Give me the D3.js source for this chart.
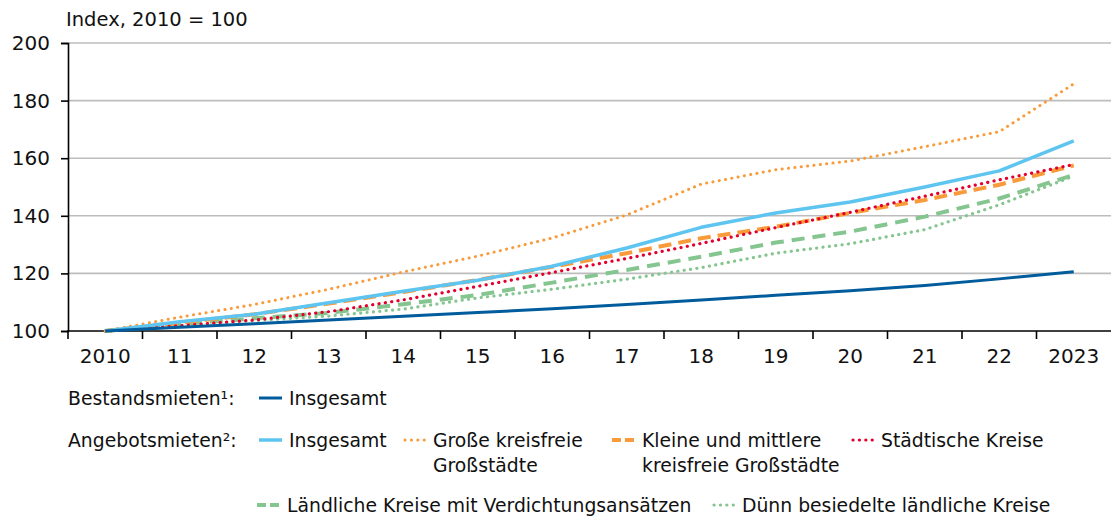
<!DOCTYPE html>
<html>
<head>
<meta charset="utf-8">
<script src="https://cdn.jsdelivr.net/npm/d3@7"></script>
<style>
  body { margin: 0; background: #fff; }
  svg text { font-family: "DejaVu Sans", sans-serif; fill: #111; }
</style>
</head>
<body>
<div id="chart"></div>
<script>
// -------------------- DATA --------------------
const years = [2010, 2011, 2012, 2013, 2014, 2015, 2016, 2017, 2018, 2019, 2020, 2021, 2022, 2023];
const yearLabels = ["2010", "11", "12", "13", "14", "15", "16", "17", "18", "19", "20", "21", "22", "2023"];
const yTicks = [100, 120, 140, 160, 180, 200];

const bestandInsgesamt = [100, 101.3, 102.5, 103.8, 105.1, 106.4, 107.7, 109.2, 110.8, 112.4, 114.0, 115.8, 118.1, 120.6];
const angebotInsgesamt = [100, 103.2, 105.8, 109.8, 113.8, 117.6, 122.5, 128.8, 136.0, 141.0, 144.8, 150.0, 155.6, 166.0];
const grosseStaedte    = [100, 104.8, 109.2, 114.5, 120.5, 126.0, 132.3, 140.3, 151.0, 156.0, 159.0, 164.0, 169.2, 185.8];
const kleineStaedte    = [100, 102.8, 105.8, 109.5, 113.5, 117.7, 122.3, 127.0, 132.2, 136.2, 141.0, 145.5, 150.8, 157.5];
const staedtKreise     = [100, 101.8, 103.8, 106.7, 110.8, 115.5, 120.3, 125.2, 130.4, 135.9, 141.2, 146.8, 152.5, 157.8];
const laendVerdicht    = [100, 102.4, 104.4, 106.3, 109.3, 112.5, 116.8, 121.2, 125.8, 130.7, 134.5, 139.7, 146.0, 154.2];
const duennBesiedelt   = [100, 101.8, 103.6, 105.2, 107.6, 111.5, 114.5, 118.0, 122.0, 127.0, 130.3, 135.2, 143.8, 153.8];

const series = [
  { key: "laendVerdicht", values: laendVerdicht, color: "#85c58f", width: 4, dash: "13,8", cap: "butt" },
  { key: "duennBesiedelt", values: duennBesiedelt, color: "#85c58f", width: 3.2, dash: "0.1,6.3", cap: "round" },
  { key: "kleineStaedte", values: kleineStaedte, color: "#f99b3a", width: 4, dash: "13,7", cap: "butt" },
  { key: "staedtKreise", values: staedtKreise, color: "#e3002c", width: 3.2, dash: "0.1,6.3", cap: "round" },
  { key: "grosseStaedte", values: grosseStaedte, color: "#f99b3a", width: 3, dash: "0.1,6.3", cap: "round" },
  { key: "angebotInsgesamt", values: angebotInsgesamt, color: "#5ec4f0", width: 3.5, dash: null, cap: "butt" },
  { key: "bestandInsgesamt", values: bestandInsgesamt, color: "#005c9c", width: 3, dash: null, cap: "butt" }
];
const styleOf = {};
series.forEach(s => styleOf[s.key] = s);

// -------------------- LAYOUT --------------------
const W = 1111, H = 522;
const plotLeft = 68, plotRight = 1111, plotTop = 43, plotBottom = 331;

const svg = d3.select("#chart").append("svg")
  .attr("width", W).attr("height", H);

const x = d3.scaleBand().domain(years).range([plotLeft, plotRight]);
const y = d3.scaleLinear().domain([100, 200]).range([plotBottom, plotTop]);
const cx = d => x(d) + x.bandwidth() / 2;

// gridlines
svg.append("g").selectAll("line")
  .data(yTicks.filter(t => t > 100))
  .join("line")
  .attr("x1", plotLeft).attr("x2", plotRight)
  .attr("y1", d => y(d)).attr("y2", d => y(d))
  .attr("stroke", "#bdbdbd").attr("stroke-width", 1.6);

// y axis
const yAxis = svg.append("g")
  .attr("transform", `translate(${plotLeft},0)`)
  .call(d3.axisLeft(y).tickValues(yTicks).tickSize(7).tickPadding(11));
yAxis.select(".domain").attr("stroke", "#000").attr("stroke-width", 1.6);
yAxis.selectAll(".tick line").attr("stroke", "#000").attr("stroke-width", 1.6);
yAxis.selectAll(".tick text").attr("font-size", 20).attr("font-family", "DejaVu Sans").attr("fill", "#111");

svg.append("text")
  .attr("x", 66).attr("y", 26)
  .attr("font-size", 19.5)
  .text("Index, 2010 = 100");

// x axis
const xAxis = svg.append("g")
  .attr("transform", `translate(0,${plotBottom})`)
  .call(d3.axisBottom(x).tickSize(0).tickPadding(18).tickFormat((d, i) => yearLabels[i]));
xAxis.select(".domain").remove();
xAxis.selectAll(".tick text").attr("font-size", 20).attr("font-family", "DejaVu Sans").attr("fill", "#111");
xAxis.append("line")
  .attr("x1", plotLeft - 1).attr("x2", plotRight)
  .attr("stroke", "#000").attr("stroke-width", 1.6);
xAxis.append("g").selectAll("line")
  .data(years)
  .join("line")
  .attr("x1", d => x(d)).attr("x2", d => x(d))
  .attr("y1", 0).attr("y2", 8)
  .attr("stroke", "#000").attr("stroke-width", 1.6);

// lines
const line = d3.line()
  .x((d, i) => cx(years[i]))
  .y(d => y(d));

svg.append("g").selectAll("path")
  .data(series)
  .join("path")
  .attr("fill", "none")
  .attr("stroke", d => d.color)
  .attr("stroke-width", d => d.width)
  .attr("stroke-dasharray", d => d.dash)
  .attr("stroke-linecap", d => d.cap)
  .attr("stroke-linejoin", "round")
  .attr("d", d => line(d.values));

// -------------------- LEGEND --------------------
const legend = svg.append("g").attr("font-size", 18.8);

const rowLabels = [
  { text: "Bestandsmieten¹:", x: 68, y: 405 },
  { text: "Angebotsmieten²:", x: 68, y: 447 }
];
legend.selectAll("text.row")
  .data(rowLabels)
  .join("text")
  .attr("class", "row")
  .attr("x", d => d.x).attr("y", d => d.y)
  .text(d => d.text);

const items = [
  { key: "bestandInsgesamt", lines: ["Insgesamt"], x: 259, y: 405 },
  { key: "angebotInsgesamt", lines: ["Insgesamt"], x: 259, y: 447 },
  { key: "grosseStaedte", lines: ["Große kreisfreie", "Großstädte"], x: 403, y: 447 },
  { key: "kleineStaedte", lines: ["Kleine und mittlere", "kreisfreie Großstädte"], x: 612, y: 447 },
  { key: "staedtKreise", lines: ["Städtische Kreise"], x: 851, y: 447 },
  { key: "laendVerdicht", lines: ["Ländliche Kreise mit Verdichtungsansätzen"], x: 257, y: 512 },
  { key: "duennBesiedelt", lines: ["Dünn besiedelte ländliche Kreise"], x: 712, y: 512 }
];

const item = legend.selectAll("g.item")
  .data(items)
  .join("g")
  .attr("class", "item")
  .attr("transform", d => `translate(${d.x},${d.y})`);

item.append("line")
  .attr("x1", 0).attr("x2", 23)
  .attr("y1", -7).attr("y2", -7)
  .attr("stroke", d => styleOf[d.key].color)
  .attr("stroke-width", d => styleOf[d.key].width)
  .attr("stroke-dasharray", d => {
    const s = styleOf[d.key];
    return s.dash ? (s.cap === "round" ? "0.1,6.3" : "9,4") : null;
  })
  .attr("stroke-linecap", d => styleOf[d.key].cap)
  .attr("transform", d => styleOf[d.key].cap === "round" ? "translate(2,0)" : null);

item.append("text")
  .attr("x", 30)
  .selectAll("tspan")
  .data(d => d.lines)
  .join("tspan")
  .attr("x", 30)
  .attr("dy", (d, i) => i === 0 ? 0 : 25)
  .text(d => d);
</script>
</body>
</html>
